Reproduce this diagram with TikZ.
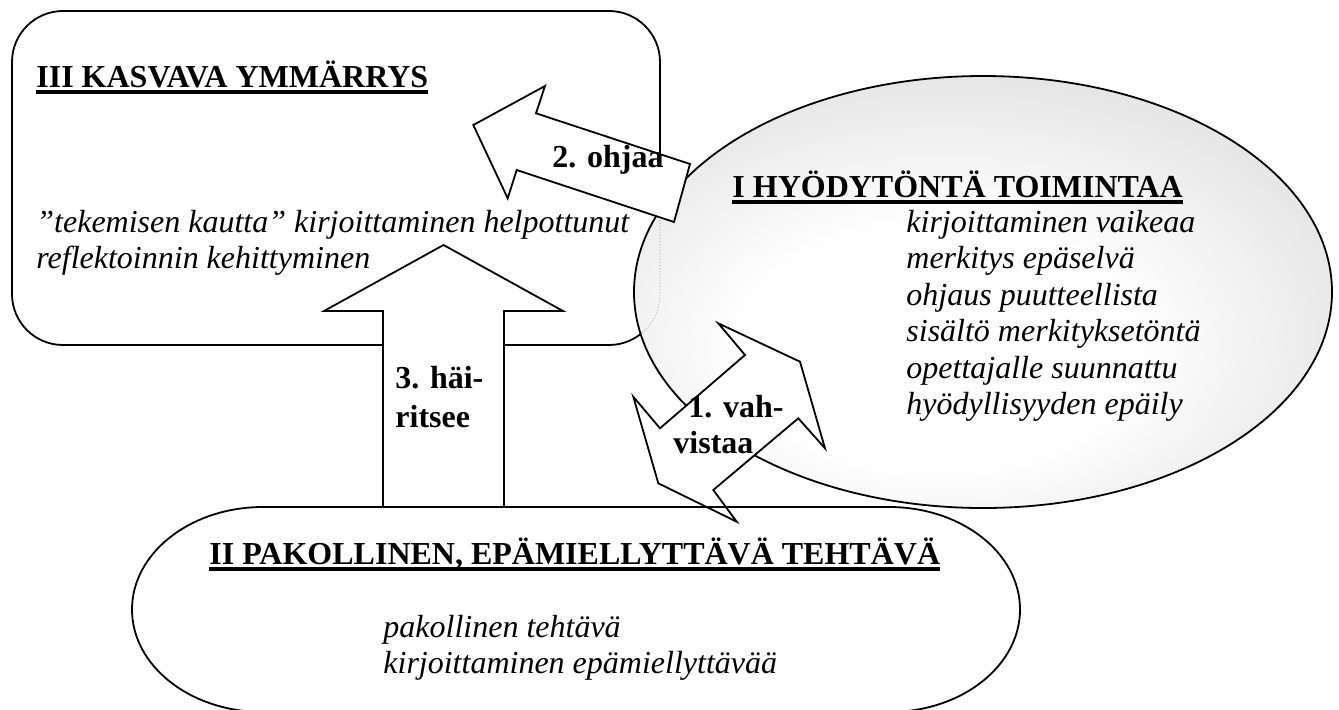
\documentclass[tikz,border=0pt]{standalone}
\usepackage{fontspec}
\setmainfont{Liberation Serif}

% thick underline used for the three headings
\newsavebox\ulbox
\newcommand\headul[1]{\sbox\ulbox{#1}\rlap{\rule[-3.3pt]{\wd\ulbox}{1.6pt}}\usebox\ulbox}

% grey fill of the "I" ellipse: white core low and left, darker grey rim
\pgfdeclareradialshading{orbshade}{\pgfpoint{-4bp}{-8bp}}{%
  color(0bp)=(white); color(14bp)=(white); color(30bp)=(black!10);
  color(42bp)=(black!28); color(50bp)=(black!42); color(58bp)=(black!52);
  color(72bp)=(black!58)}

\tikzset{
  outline/.style={draw=black, line width=0.9pt},
  blockarrow/.style={draw=black, line width=0.9pt, fill=white, line join=miter},
  heading/.style={font=\fontsize{16}{19}\selectfont\bfseries, inner sep=0pt, anchor=base west},
  itemtext/.style={font=\fontsize{16}{19}\selectfont\itshape, inner sep=0pt, anchor=base west},
  arrowlabel/.style={font=\fontsize{16}{19}\selectfont\bfseries, inner sep=0pt, anchor=base west},
}

\begin{document}
\begin{tikzpicture}[x=0.5pt, y=-0.5pt]
  \useasboundingbox (0,0) rectangle (1339,709);

  % III: rounded box
  \path[outline, fill=white, rounded corners=25.5pt] (12,11) rectangle (660,345);

  % I: shaded ellipse
  \shadedraw[shading=orbshade, draw=black, line width=0.9pt]
    (983,292) ellipse [x radius=349, y radius=216];
  % faint trace of the box edge seen through the ellipse
  \begin{scope}
    \clip (983,292) ellipse [x radius=349, y radius=216];
    \draw[black!35, line width=0.3pt, dash pattern=on 0.6pt off 0.9pt, rounded corners=25.5pt]
      (12,11) rectangle (660,345);
  \end{scope}

  % 2. ohjaa (from I towards III)
  \path[blockarrow] (473.3,125) -- (545,86) -- (536,113.3) -- (690,164)
    -- (674,222) -- (516.7,170) -- (507.7,198.3) -- cycle;

  % 3. häiritsee (from II up into III)
  \path[blockarrow] (443.5,245) -- (563,311) -- (504,311) -- (504,507)
    -- (383,507) -- (383,311) -- (324,311) -- cycle;

  % 1. vahvistaa (double-headed, between II and I)
  \path[blockarrow] (718.3,323.3) -- (800,361.7) -- (825,448.3) -- (798.3,418.3)
    -- (713.3,490) -- (736.7,521.7) -- (658.3,483.3) -- (633.3,396.7)
    -- (660,428.3) -- (745,355) -- cycle;

  % II: oval with elliptical ends, running off the bottom edge
  \draw[outline] (263,507) -- (889,507)
    arc [start angle=-90, end angle=90, x radius=131, y radius=102.5]
    -- (263,712)
    arc [start angle=90, end angle=270, x radius=131, y radius=102.5] -- cycle;

  % texts of III
  \node[heading] (h3) at (36,87) {\headul{III KASVAVA YMMÄRRYS}};
  \node[itemtext] (t3a) at (36,232) {”tekemisen kautta” kirjoittaminen helpottunut};
  \node[itemtext] (t3b) at (36,268) {reflektoinnin kehittyminen};

  % texts of I
  \node[heading] (h1) at (732,197) {\headul{I HYÖDYTÖNTÄ TOIMINTAA}};
  \node[itemtext] (t1a) at (906,232)   {kirjoittaminen vaikeaa};
  \node[itemtext] (t1b) at (906,268.5) {merkitys epäselvä};
  \node[itemtext] (t1c) at (906,305)   {ohjaus puutteellista};
  \node[itemtext] (t1d) at (906,341.5) {sisältö merkityksetöntä};
  \node[itemtext] (t1e) at (906,378)   {opettajalle suunnattu};
  \node[itemtext] (t1f) at (906,414.5) {hyödyllisyyden epäily};

  % texts of II
  \node[heading] (h2) at (209,564) {\headul{II PAKOLLINEN, EPÄMIELLYTTÄVÄ TEHTÄVÄ}};
  \node[itemtext] (t2a) at (383,637) {pakollinen tehtävä};
  \node[itemtext] (t2b) at (383,673) {kirjoittaminen epämiellyttävää};

  % arrow labels
  \node[arrowlabel] (a2) at (552,167) {2. ohjaa};
  \node[arrowlabel] (a3a) at (395,388) {3. häi-};
  \node[arrowlabel] (a3b) at (395,427) {ritsee};
  \node[arrowlabel] (a1a) at (688,417) {1. vah-};
  \node[arrowlabel] (a1b) at (673,453) {vistaa};
\end{tikzpicture}
\end{document}
